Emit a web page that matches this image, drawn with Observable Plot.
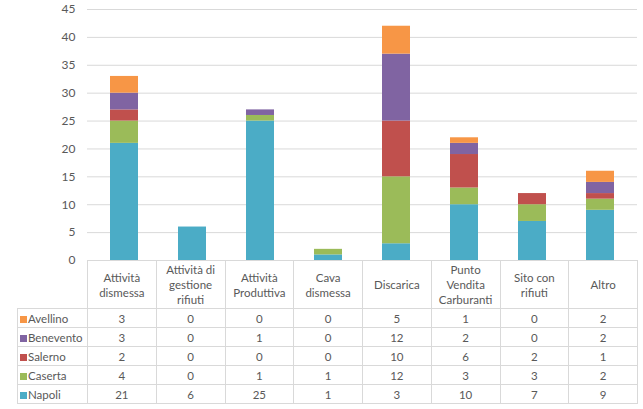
<!DOCTYPE html>
<html>
<head>
<meta charset="utf-8">
<script src="https://cdn.jsdelivr.net/npm/d3@7"></script>
<script src="https://cdn.jsdelivr.net/npm/@observablehq/plot@0.6"></script>
<style>
  html, body { margin: 0; padding: 0; background: #fff; }
  #wrap { position: relative; width: 643px; height: 409px; font-family: Lato, "Open Sans", sans-serif; color: #595959; }
  #chart { position: absolute; left: 0; top: 0; }
  #tbl { position: absolute; left: 17px; top: 260px; border-collapse: collapse; table-layout: fixed; font-size: 11.5px; color: #595959; }
  #tbl td { border: 1px solid #d9d9d9; text-align: center; padding: 0; line-height: 15px; }
  #tbl tr.head td { height: 47px; vertical-align: middle; }
  #tbl tr.row td { height: 18px; }
  #tbl td.corner { border-top: none; border-left: none; }
  #tbl td.lab { text-align: left; padding-left: 2px; white-space: nowrap; }
  .key { display: inline-block; width: 7px; height: 7px; margin-right: 1px; vertical-align: 0px; }
</style>
</head>
<body>
<div id="wrap">
  <div id="chart"></div>
  <table id="tbl"></table>
</div>
<script>
const categories = ["Attività dismessa", "Attività di gestione rifiuti", "Attività Produttiva", "Cava dismessa", "Discarica", "Punto Vendita Carburanti", "Sito con rifiuti", "Altro"];
const categoryLines = [["Attività", "dismessa"], ["Attività di", "gestione", "rifiuti"], ["Attività", "Produttiva"], ["Cava", "dismessa"], ["Discarica"], ["Punto", "Vendita", "Carburanti"], ["Sito con", "rifiuti"], ["Altro"]];
const series = ["Napoli", "Caserta", "Salerno", "Benevento", "Avellino"];
const colors = ["#4BACC6", "#9BBB59", "#C0504D", "#8064A2", "#F79646"];
const napoli    = [21, 6, 25, 1, 3, 10, 7, 9];
const caserta   = [4, 0, 1, 1, 12, 3, 3, 2];
const salerno   = [2, 0, 0, 0, 10, 6, 2, 1];
const benevento = [3, 0, 1, 0, 12, 2, 0, 2];
const avellino  = [3, 0, 0, 0, 5, 1, 0, 2];
const yTicks = [0, 5, 10, 15, 20, 25, 30, 35, 40, 45];

const values = [napoli, caserta, salerno, benevento, avellino];
const data = [];
series.forEach((s, si) => categories.forEach((c, ci) => data.push({cat: c, series: s, v: values[si][ci]})));

const chart = Plot.plot({
  width: 643,
  height: 270,
  marginLeft: 87,
  marginRight: 6,
  marginTop: 9,
  marginBottom: 10,
  style: {fontFamily: "Lato, 'Open Sans', sans-serif", fontSize: "12px", color: "#595959", background: "transparent"},
  x: {domain: categories, paddingInner: 0.59, paddingOuter: 0.295, axis: null},
  y: {domain: [0, 45], ticks: yTicks, tickSize: 0, tickPadding: 12, label: null},
  color: {domain: series, range: colors},
  marks: [
    Plot.gridY(yTicks, {stroke: "#d9d9d9", strokeOpacity: 1}),
    Plot.barY(data, {x: "cat", y: "v", fill: "series", order: series}),
    Plot.axisY(yTicks, {tickSize: 0, tickPadding: 12, label: null})
  ]
});
document.getElementById("chart").appendChild(chart);

// data table
const tbl = document.getElementById("tbl");
const colg = document.createElement("colgroup");
const c0 = document.createElement("col"); c0.style.width = "70px"; colg.appendChild(c0);
categories.forEach(() => { const c = document.createElement("col"); c.style.width = "68.75px"; colg.appendChild(c); });
tbl.appendChild(colg);
const head = document.createElement("tr"); head.className = "head";
const corner = document.createElement("td"); corner.className = "corner"; head.appendChild(corner);
categoryLines.forEach(lines => { const td = document.createElement("td"); td.innerHTML = lines.join("<br>"); head.appendChild(td); });
tbl.appendChild(head);
for (let si = series.length - 1; si >= 0; si--) {
  const tr = document.createElement("tr"); tr.className = "row";
  const lab = document.createElement("td"); lab.className = "lab";
  lab.innerHTML = `<span class="key" style="background:${colors[si]}"></span>${series[si]}`;
  tr.appendChild(lab);
  values[si].forEach(v => { const td = document.createElement("td"); td.textContent = v; tr.appendChild(td); });
  tbl.appendChild(tr);
}
</script>
</body>
</html>
